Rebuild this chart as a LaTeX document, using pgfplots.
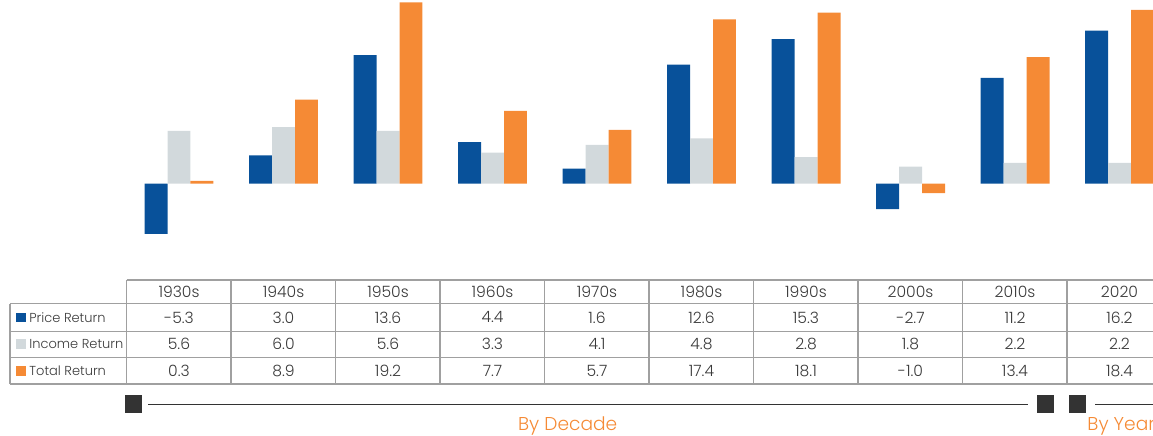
\documentclass[border=0pt]{standalone}
\usepackage{pgfplots}
\pgfplotsset{compat=1.18}
\usepackage{fontspec}
\IfFontExistsTF{Poppins Light}{\setmainfont{Poppins Light}}{\setmainfont{Poppins}}
\definecolor{cblue}{HTML}{08519A}
\definecolor{cgray}{HTML}{D2D9DC}
\definecolor{corange}{HTML}{F58A35}
\definecolor{cline}{HTML}{A0A0A0}
\definecolor{ctext}{HTML}{3A3A3A}
\definecolor{cdark}{HTML}{333333}
\begin{document}
\begin{tikzpicture}
\path[use as bounding box] (0,0) rectangle (576.5pt,217.5pt);
\begin{axis}[at={(0,0)}, anchor=south west, scale only axis,
  width=576.5pt, height=217.5pt,
  xmin=-1.7129, xmax=9.3206, ymin=-26.593, ymax=19.439,
  hide axis, ybar, bar width=0.22]
\addplot[fill=cblue, draw=none, bar shift=-0.22] coordinates {(0,-5.3) (1,3.0) (2,13.6) (3,4.4) (4,1.6) (5,12.6) (6,15.3) (7,-2.7) (8,11.2) (9,16.2)};
\addplot[fill=cgray, draw=none, bar shift=0] coordinates {(0,5.6) (1,6.0) (2,5.6) (3,3.3) (4,4.1) (5,4.8) (6,2.8) (7,1.8) (8,2.2) (9,2.2)};
\addplot[fill=corange, draw=none, bar shift=0.22] coordinates {(0,0.3) (1,8.9) (2,19.2) (3,7.7) (4,5.7) (5,17.4) (6,18.1) (7,-1.0) (8,13.4) (9,18.4)};
\end{axis}
\begin{scope}[x=0.5pt, y=-0.5pt, shift={(0,217.5pt)}]
 % table lines
 \begin{scope}[draw=cline, line width=0.75pt]
  \draw (126.7,280) -- (1170,280);
  \foreach \yy in {303.5,331.3,357.3,384} \draw (10,\yy) -- (1170,\yy);
  \draw (10,303.5) -- (10,384);
  \foreach \k in {0,...,9} \draw ({126.7+104.5*\k},280) -- ({126.7+104.5*\k},384);
 \end{scope}
 \tikzset{num/.style={text=ctext, font=\fontsize{7.8}{9}\selectfont, inner sep=0pt},
          lab/.style={text=ctext, font=\fontsize{6.5}{8}\selectfont, inner sep=0pt, anchor=west}}
 % header
 \foreach \lab [count=\i from 0] in {1930s,1940s,1950s,1960s,1970s,1980s,1990s,2000s,2010s,2020}
   \node[num] at ({179+104.5*\i},292) {\lab};
 \foreach \lab [count=\i from 0] in {-5.3,3.0,13.6,4.4,1.6,12.6,15.3,-2.7,11.2,16.2}
   \node[num] at ({179+104.5*\i},317.4) {\lab};
 \foreach \lab [count=\i from 0] in {5.6,6.0,5.6,3.3,4.1,4.8,2.8,1.8,2.2,2.2}
   \node[num] at ({179+104.5*\i},344.3) {\lab};
 \foreach \lab [count=\i from 0] in {0.3,8.9,19.2,7.7,5.7,17.4,18.1,-1.0,13.4,18.4}
   \node[num] at ({179+104.5*\i},370.6) {\lab};
 % row labels
 \fill[cblue] (16,312.5) rectangle (25.7,322.3);
 \fill[cgray] (16,339.4) rectangle (25.7,349.2);
 \fill[corange] (16,365.7) rectangle (25.7,375.5);
 \node[lab] at (29,317.4) {Price Return};
 \node[lab] at (29,344.3) {Income Return};
 \node[lab] at (29,370.6) {Total Return};
 % timeline
 \fill[cdark] (125,395) rectangle (141.7,413.3);
 \fill[cdark] (1037.3,395) rectangle (1054,413.3);
 \fill[cdark] (1069.3,395) rectangle (1086,413.3);
 \draw[cdark, line width=0.6pt] (148,404.3) -- (1028,404.3);
 \draw[cdark, line width=0.6pt] (1095,404.3) -- (1160,404.3);
 \node[text=corange, font=\fontsize{9.3}{11}\selectfont, inner sep=0pt, anchor=base west] at (517.7,430.5) {By Decade};
 \node[text=corange, font=\fontsize{9.3}{11}\selectfont, inner sep=0pt, anchor=base west] at (1087,430.5) {By Year};
\end{scope}
\end{tikzpicture}
\end{document}
